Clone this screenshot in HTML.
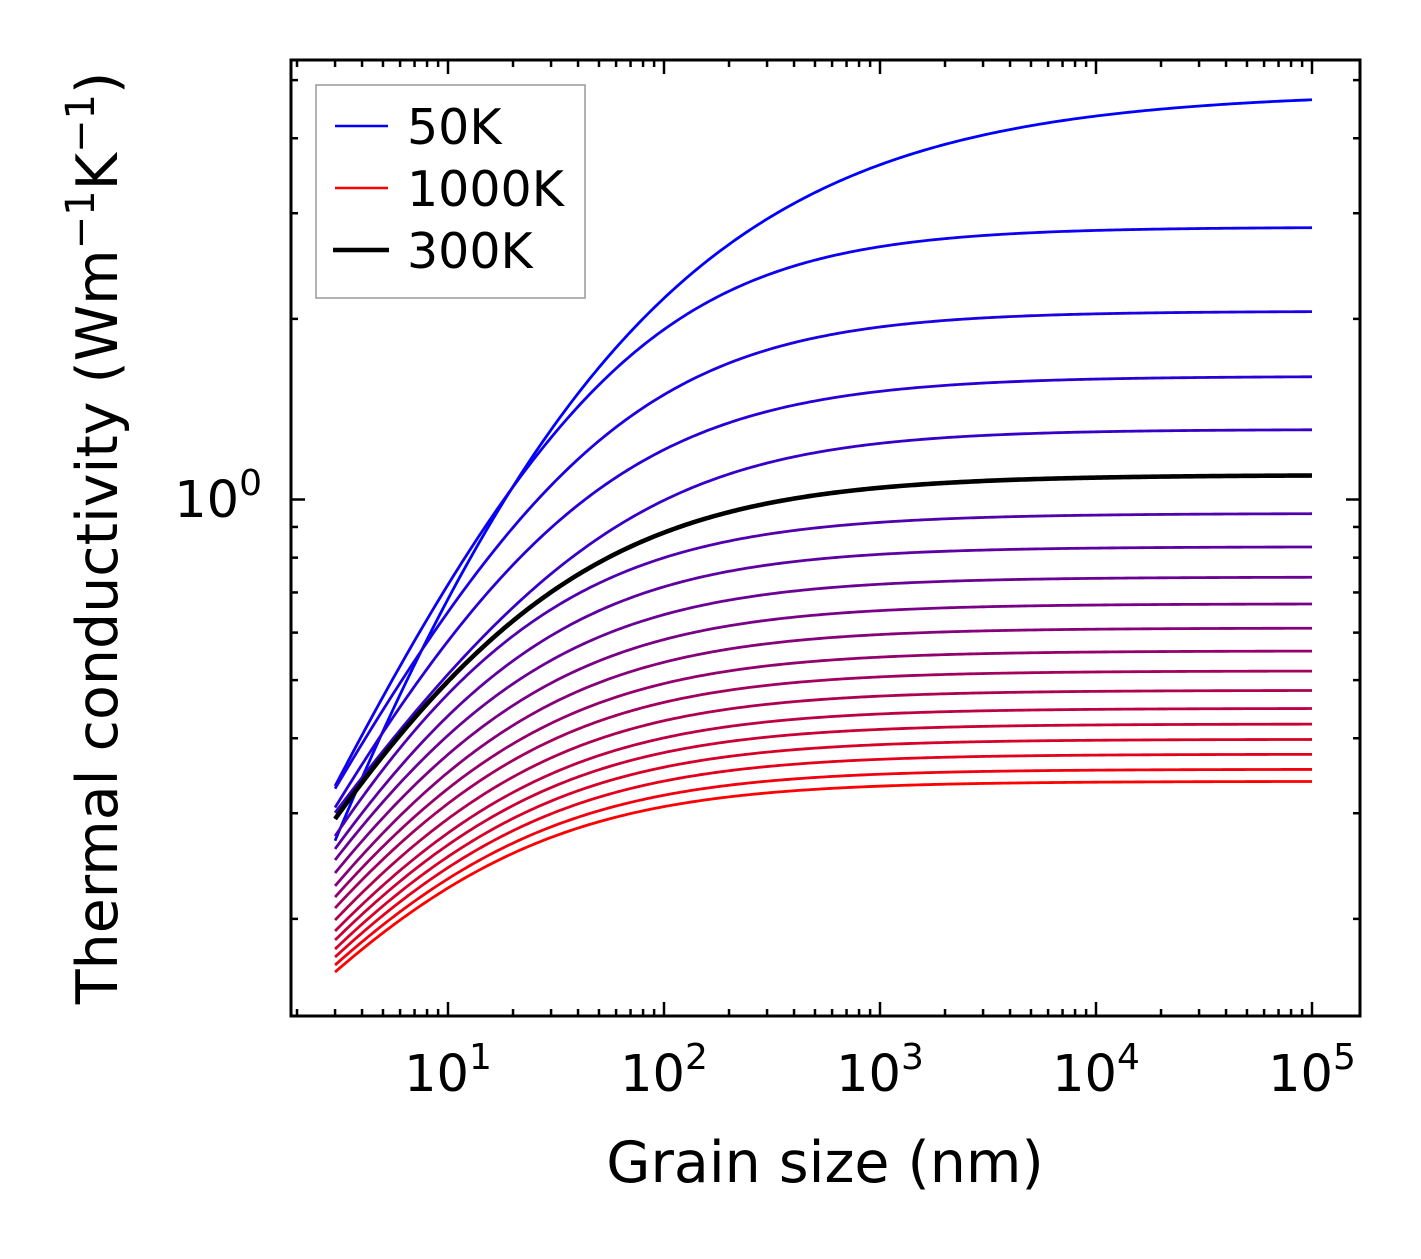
<!DOCTYPE html>
<html><head><meta charset="utf-8"><style>
html,body{margin:0;padding:0;background:#fff;}
svg text{font-family:"DejaVu Sans","Liberation Sans",sans-serif;fill:#000;}
</style></head><body>
<svg id="chart" width="1421" height="1254" viewBox="0 0 1421 1254" xmlns="http://www.w3.org/2000/svg">
<rect x="0" y="0" width="1421" height="1254" fill="#fff"/>
<g id="series"></g>
<g id="ticks"></g>
<rect x="291" y="60" width="1069" height="956" fill="none" stroke="#000" stroke-width="3"/>
<g id="xlabels"></g>
<text x="262" y="517" font-size="51" text-anchor="end">10<tspan font-size="36" dy="-22">0</tspan></text>
<text x="825" y="1182" font-size="57" text-anchor="middle">Grain size (nm)</text>
<text transform="translate(117,538) rotate(-90)" font-size="57" text-anchor="middle">Thermal conductivity (Wm<tspan font-size="40" dy="-23">−1</tspan><tspan dy="23">K</tspan><tspan font-size="40" dy="-23">−1</tspan><tspan dy="23">)</tspan></text>
<g>
<rect x="316" y="85" width="269" height="213" fill="#fff" stroke="#999" stroke-width="1.5"/>
<line x1="335" y1="126" x2="388" y2="126" stroke="#0000ff" stroke-width="2.6"/>
<text x="407" y="144" font-size="49">50K</text>
<line x1="335" y1="188" x2="388" y2="188" stroke="#ff0000" stroke-width="2.6"/>
<text x="407" y="206" font-size="49">1000K</text>
<line x1="333" y1="250" x2="389" y2="250" stroke="#000" stroke-width="4.6"/>
<text x="407" y="268" font-size="49">300K</text>
</g>
</svg>
<script>
const grainSizes = [3, 5, 10, 20, 50, 100, 300, 1000, 10000, 100000];
const temperatures = [50,100,150,200,250,300,350,400,450,500,550,600,650,700,750,800,850,900,950,1000];
const k50 = [0.274,0.398,0.684,1.09,1.64,2.14,2.88,3.69,4.416,4.571];
const k100 = [0.337,0.462,0.716,1.06,1.55,1.95,2.34,2.60,2.82,2.862];
const k150 = [0.329,0.447,0.645,0.917,1.22,1.50,1.80,1.934,2.035,2.053];
const k200 = [0.307,0.407,0.582,0.79,1.02,1.206,1.42,1.52,1.585,1.594];
const k250 = [0.298,0.385,0.513,0.659,0.856,0.995,1.159,1.247,1.294,1.301];
const k300 = [0.291,0.379,0.50,0.62,0.78,0.889,0.983,1.055,1.087,1.090];
const k350 = [0.275,0.354,0.475,0.593,0.728,0.790,0.878,0.925,0.941,0.942];
const k400 = [0.2616,0.3313,0.4372,0.5383,0.6513,0.7128,0.7790,0.8159,0.8291,0.830];
const k450 = [0.2507,0.3130,0.4056,0.4929,0.5888,0.6405,0.6965,0.7273,0.7382,0.739];
const k500 = [0.2385,0.2945,0.3769,0.4534,0.5374,0.5823,0.6303,0.6569,0.6666,0.667];
const k550 = [0.2269,0.2778,0.3518,0.4201,0.4943,0.5339,0.5760,0.5991,0.6074,0.608];
const k600 = [0.2175,0.2637,0.3306,0.3916,0.4571,0.4920,0.5289,0.5493,0.5565,0.557];
const k650 = [0.2085,0.2511,0.3121,0.3673,0.4266,0.4578,0.4909,0.5089,0.5155,0.516];
const k700 = [0.1991,0.2384,0.2943,0.3447,0.3985,0.4266,0.4563,0.4727,0.4786,0.479];
const k750 = [0.1909,0.2273,0.2787,0.3249,0.3737,0.3996,0.4266,0.4413,0.4466,0.447];
const k800 = [0.1844,0.2184,0.2662,0.3090,0.3540,0.3776,0.4024,0.4159,0.4207,0.421];
const k850 = [0.1781,0.2100,0.2545,0.2939,0.3354,0.3571,0.3799,0.3922,0.3967,0.397];
const k900 = [0.1727,0.2026,0.2439,0.2805,0.3187,0.3385,0.3594,0.3707,0.3747,0.375];
const k950 = [0.1675,0.1953,0.2337,0.2675,0.3025,0.3207,0.3397,0.3500,0.3537,0.354];
const k1000 = [0.1631,0.1894,0.2256,0.2572,0.2901,0.3069,0.3247,0.3344,0.3377,0.338];
const xTickLabels = ["1","2","3","4","5"];

const allSeries = [k50,k100,k150,k200,k250,k300,k350,k400,k450,k500,k550,k600,k650,k700,k750,k800,k850,k900,k950,k1000];
const X0 = 448, XD = 216, Y0 = 499.5, YD = 600;
function xScale(v){ return X0 + (Math.log10(v) - 1) * XD; }
function yScale(v){ return Y0 - Math.log10(v) * YD; }
const NS = 'http://www.w3.org/2000/svg';

// smooth saturating curve through the read points (least-squares, Nelder-Mead)
function model(p, u){ return p[0] - p[1]*Math.log10(1 + Math.pow(10, p[3]*(p[2]-u))); }
function fitCurve(us, ys){
  const n = us.length;
  const a0 = ys[n-1], c0 = 1.3, p0 = 1.0;
  const b0 = (a0 - ys[0]) / Math.log10(1 + Math.pow(10, p0*(c0-us[0])));
  const sse = p => {
    if (p[3] <= 0.05 || p[1] <= 0) return 1e9;
    let s = 0; for (let i=0;i<n;i++){ const e = model(p,us[i]) - ys[i]; s += e*e; } return s;
  };
  let simplex = [[a0,b0,c0,p0],[a0+0.02,b0,c0,p0],[a0,b0*1.2,c0,p0],[a0,b0,c0+0.3,p0],[a0,b0,c0,p0*1.3]];
  let vals = simplex.map(sse);
  for (let it=0; it<3000; it++){
    const idx = [0,1,2,3,4].sort((i,j)=>vals[i]-vals[j]);
    simplex = idx.map(i=>simplex[i]); vals = idx.map(i=>vals[i]);
    const cen = [0,0,0,0];
    for (let i=0;i<4;i++) for (let k=0;k<4;k++) cen[k]+=simplex[i][k]/4;
    const w = simplex[4];
    const refl = cen.map((c,k)=>c+(c-w[k])); const fr = sse(refl);
    if (fr < vals[0]) {
      const exp = cen.map((c,k)=>c+2*(c-w[k])); const fe = sse(exp);
      if (fe < fr){ simplex[4]=exp; vals[4]=fe; } else { simplex[4]=refl; vals[4]=fr; }
    } else if (fr < vals[3]) { simplex[4]=refl; vals[4]=fr; }
    else {
      const con = cen.map((c,k)=>c+0.5*(w[k]-c)); const fc = sse(con);
      if (fc < vals[4]) { simplex[4]=con; vals[4]=fc; }
      else { for (let i=1;i<5;i++){ simplex[i]=simplex[i].map((v,k)=>simplex[0][k]+0.5*(v-simplex[0][k])); vals[i]=sse(simplex[i]); } }
    }
  }
  let bi = 0; for (let i=1;i<5;i++) if (vals[i]<vals[bi]) bi=i;
  return simplex[bi];
}

const sg = document.getElementById('series');
const us = grainSizes.map(v=>Math.log10(v));
function drawSeries(vals, color, width, name){
  const ys = vals.map(v=>Math.log10(v));
  const p = fitCurve(us, ys);
  let d = '';
  const u0 = us[0], u1 = us[us.length-1];
  for (let j=0;j<=300;j++){
    const u = u0 + (u1-u0)*j/300;
    const L = Math.pow(10,u);
    const k = Math.pow(10, model(p,u));
    d += (j?'L':'M') + xScale(L).toFixed(2) + ',' + yScale(k).toFixed(2);
  }
  const path = document.createElementNS(NS,'path');
  path.setAttribute('d', d);
  path.setAttribute('fill','none');
  path.setAttribute('stroke',color);
  path.setAttribute('stroke-width',width);
  path.setAttribute('stroke-linejoin','round');
  
  
  sg.appendChild(path);
}
allSeries.forEach((vals,i)=>{
  const f = i/(allSeries.length-1);
  const col = 'rgb(' + Math.round(255*f) + ',0,' + Math.round(255*(1-f)) + ')';
  drawSeries(vals, col, 2.8, 'curve-' + temperatures[i] + 'k');
});
drawSeries(k300, '#000', 4.6, 'curve-300k-highlight');

const tg = document.getElementById('ticks');
function tick(x1,y1,x2,y2,name){
  const l = document.createElementNS(NS,'line');
  l.setAttribute('x1',x1); l.setAttribute('y1',y1); l.setAttribute('x2',x2); l.setAttribute('y2',y2);
  l.setAttribute('stroke','#000'); l.setAttribute('stroke-width','2.5');
  
  
  tg.appendChild(l);
}
for (let e=0;e<=5;e++){
  for (let m=1;m<=9;m++){
    const v = m*Math.pow(10,e);
    const x = xScale(v);
    if (x<292 || x>1359) continue;
    const len = m===1 ? 14 : 7;
    tick(x,1016,x,1016-len,'x-tick');
    tick(x,60,x,60+len,'x-tick-top');
  }
}
[0.2,0.3,0.4,0.5,0.6,0.7,0.8,0.9,1,2,3,4,5].forEach(v=>{
  const y = yScale(v);
  const len = v===1 ? 14 : 7;
  tick(291,y,291+len,y,'y-tick');
  tick(1360,y,1360-len,y,'y-tick-right');
});
const xl = document.getElementById('xlabels');
xTickLabels.forEach((s,i)=>{
  const t = document.createElementNS(NS,'text');
  t.setAttribute('x', xScale(Math.pow(10, Number(s))));
  t.setAttribute('y', 1091);
  t.setAttribute('font-size','51');
  t.setAttribute('text-anchor','middle');
  
  
  t.innerHTML = '10<tspan font-size="36" dy="-22">' + s + '</tspan>';
  xl.appendChild(t);
});
</script>
</body></html>
